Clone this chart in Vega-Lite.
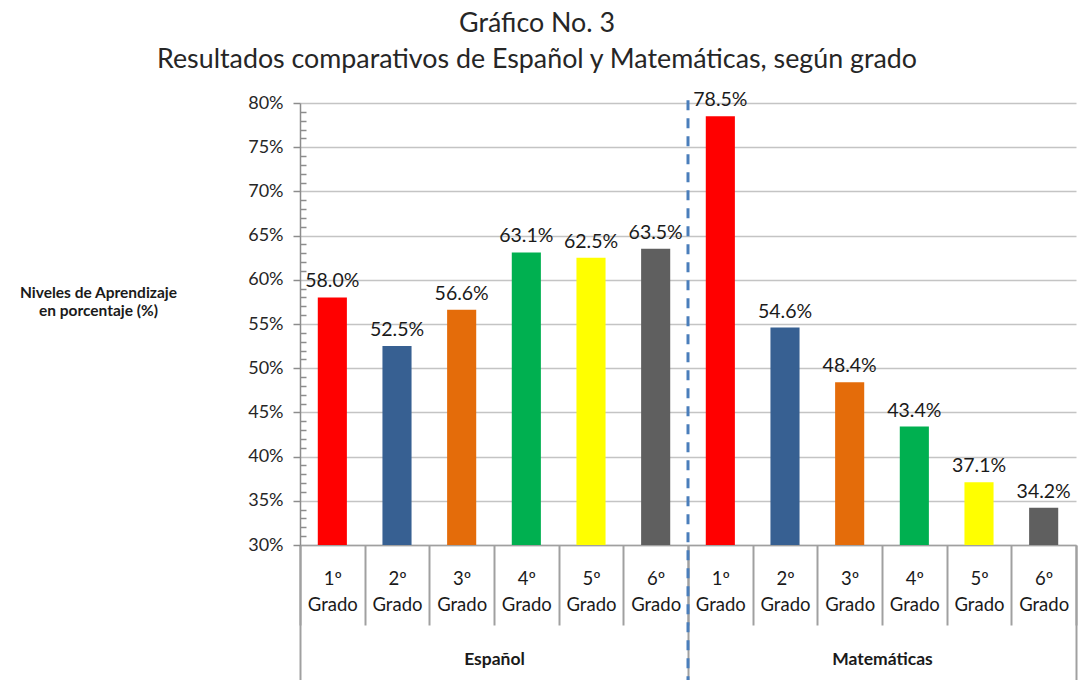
{
  "$schema": "https://vega.github.io/schema/vega-lite/v6.json",
  "width": 776,
  "height": 442,
  "autosize": "none",
  "padding": {"left": 300, "top": 103, "right": 13, "bottom": 135},
  "background": "white",
  "config": {"view": {"stroke": null}, "font": "Lato"},
  "title": {
    "text": ["Gráfico No. 3", "Resultados comparativos de Español y Matemáticas, según grado"],
    "fontSize": 26.8,
    "fontWeight": "normal",
    "color": "#262626",
    "lineHeight": 36,
    "anchor": "middle",
    "frame": "group",
    "dx": -151,
    "offset": 16
  },
  "datasets": {
    "barras": [
      {"cat": "E1", "grupo": "Español", "grado": "1", "valor": 0.580},
      {"cat": "E2", "grupo": "Español", "grado": "2", "valor": 0.525},
      {"cat": "E3", "grupo": "Español", "grado": "3", "valor": 0.566},
      {"cat": "E4", "grupo": "Español", "grado": "4", "valor": 0.631},
      {"cat": "E5", "grupo": "Español", "grado": "5", "valor": 0.625},
      {"cat": "E6", "grupo": "Español", "grado": "6", "valor": 0.635},
      {"cat": "M1", "grupo": "Matemáticas", "grado": "1", "valor": 0.785},
      {"cat": "M2", "grupo": "Matemáticas", "grado": "2", "valor": 0.546},
      {"cat": "M3", "grupo": "Matemáticas", "grado": "3", "valor": 0.484},
      {"cat": "M4", "grupo": "Matemáticas", "grado": "4", "valor": 0.434},
      {"cat": "M5", "grupo": "Matemáticas", "grado": "5", "valor": 0.371},
      {"cat": "M6", "grupo": "Matemáticas", "grado": "6", "valor": 0.342}
    ],
    "separador": [
      {"grupo": "Español", "desde": 0.803, "hasta": 0.0}
    ]
  },
  "layer": [
    {
      "data": {"name": "barras"},
      "encoding": {
        "x": {
          "field": "cat",
          "type": "ordinal",
          "sort": null,
          "scale": {"type": "band", "paddingInner": 0, "paddingOuter": 0},
          "axis": {
            "orient": "bottom",
            "title": null,
            "labelExpr": "datum.label ? [substring(datum.label, 1) + 'º', 'Grado'] : ''",
            "labelAngle": 0,
            "labelAlign": "center",
            "labelFontSize": 18.5,
            "labelLineHeight": 26,
            "labelColor": "#1a1a1a",
            "labelPadding": -56,
            "labelOverlap": false,
            "labelFlush": false,
            "tickBand": "extent",
            "tickSize": 80,
            "tickColor": "#a0a0a0",
            "tickWidth": 2,
            "domainColor": "#a0a0a0",
            "domainWidth": 1.5,
            "grid": false
          }
        },
        "y": {
          "field": "valor",
          "type": "quantitative",
          "scale": {"domain": [0.3, 0.8], "nice": false, "zero": false},
          "axis": {
            "orient": "left",
            "values": [0.3, 0.35, 0.4, 0.45, 0.5, 0.55, 0.6, 0.65, 0.7, 0.75, 0.8],
            "format": ".0%",
            "labelFontSize": 18,
            "labelColor": "#262626",
            "labelPadding": 10,
            "tickSize": 7,
            "tickColor": "#8c8c8c",
            "tickWidth": 1.5,
            "domainColor": "#8c8c8c",
            "domainWidth": 1.5,
            "grid": true,
            "gridColor": "#c4c4c4",
            "gridWidth": 1.5,
            "title": ["Niveles de Aprendizaje", "en porcentaje (%)"],
            "titleAngle": 0,
            "titleX": -202,
            "titleY": 189,
            "titleAlign": "center",
            "titleBaseline": "middle",
            "titleFontSize": 15.5,
            "titleFontWeight": "bold",
            "titleLineHeight": 18,
            "titleColor": "#1a1a1a"
          }
        }
      },
      "layer": [
        {
          "mark": {"type": "bar", "width": {"band": 0.45}, "clip": true},
          "encoding": {
            "color": {
              "field": "grado",
              "type": "nominal",
              "scale": {
                "domain": ["1", "2", "3", "4", "5", "6"],
                "range": ["#ff0000", "#376092", "#e46c0a", "#00b050", "#ffff00", "#5f5f5f"]
              },
              "legend": null
            }
          }
        },
        {
          "mark": {"type": "text", "dy": -10, "baseline": "alphabetic", "fontSize": 19.5, "color": "#1a1a1a"},
          "encoding": {
            "text": {"field": "valor", "type": "quantitative", "format": ".1%"}
          }
        }
      ]
    },
    {
      "data": {"name": "separador"},
      "mark": {"type": "rule", "strokeDash": [10, 8], "strokeWidth": 3, "color": "#4a7ebb"},
      "encoding": {
        "x": {
          "field": "grupo",
          "type": "nominal",
          "bandPosition": 1,
          "scale": {"type": "band", "domain": ["Español", "Matemáticas"], "paddingInner": 0, "paddingOuter": 0},
          "axis": {
            "orient": "bottom",
            "title": null,
            "labelAngle": 0,
            "labelFontSize": 17.5,
            "labelFontWeight": "bold",
            "labelColor": "#1a1a1a",
            "labelPadding": -30,
            "tickBand": "extent",
            "tickSize": 135,
            "tickColor": "#a0a0a0",
            "tickWidth": 2,
            "domain": false,
            "grid": false
          }
        },
        "y": {
          "field": "desde",
          "type": "quantitative",
          "scale": {"domain": [0.3, 0.8], "nice": false, "zero": false},
          "axis": {
            "orient": "left",
            "values": [0.31, 0.32, 0.33, 0.34, 0.36, 0.37, 0.38, 0.39, 0.41, 0.42, 0.43, 0.44, 0.46, 0.47, 0.48, 0.49, 0.51, 0.52, 0.53, 0.54, 0.56, 0.57, 0.58, 0.59, 0.61, 0.62, 0.63, 0.64, 0.66, 0.67, 0.68, 0.69, 0.71, 0.72, 0.73, 0.74, 0.76, 0.77, 0.78, 0.79],
            "labels": false,
            "domain": false,
            "grid": false,
            "tickSize": -6,
            "tickColor": "#8c8c8c",
            "tickWidth": 1.5,
            "title": null
          }
        },
        "y2": {"field": "hasta"}
      }
    }
  ],
  "resolve": {
    "scale": {"x": "independent"},
    "axis": {"x": "independent", "y": "independent"}
  }
}
